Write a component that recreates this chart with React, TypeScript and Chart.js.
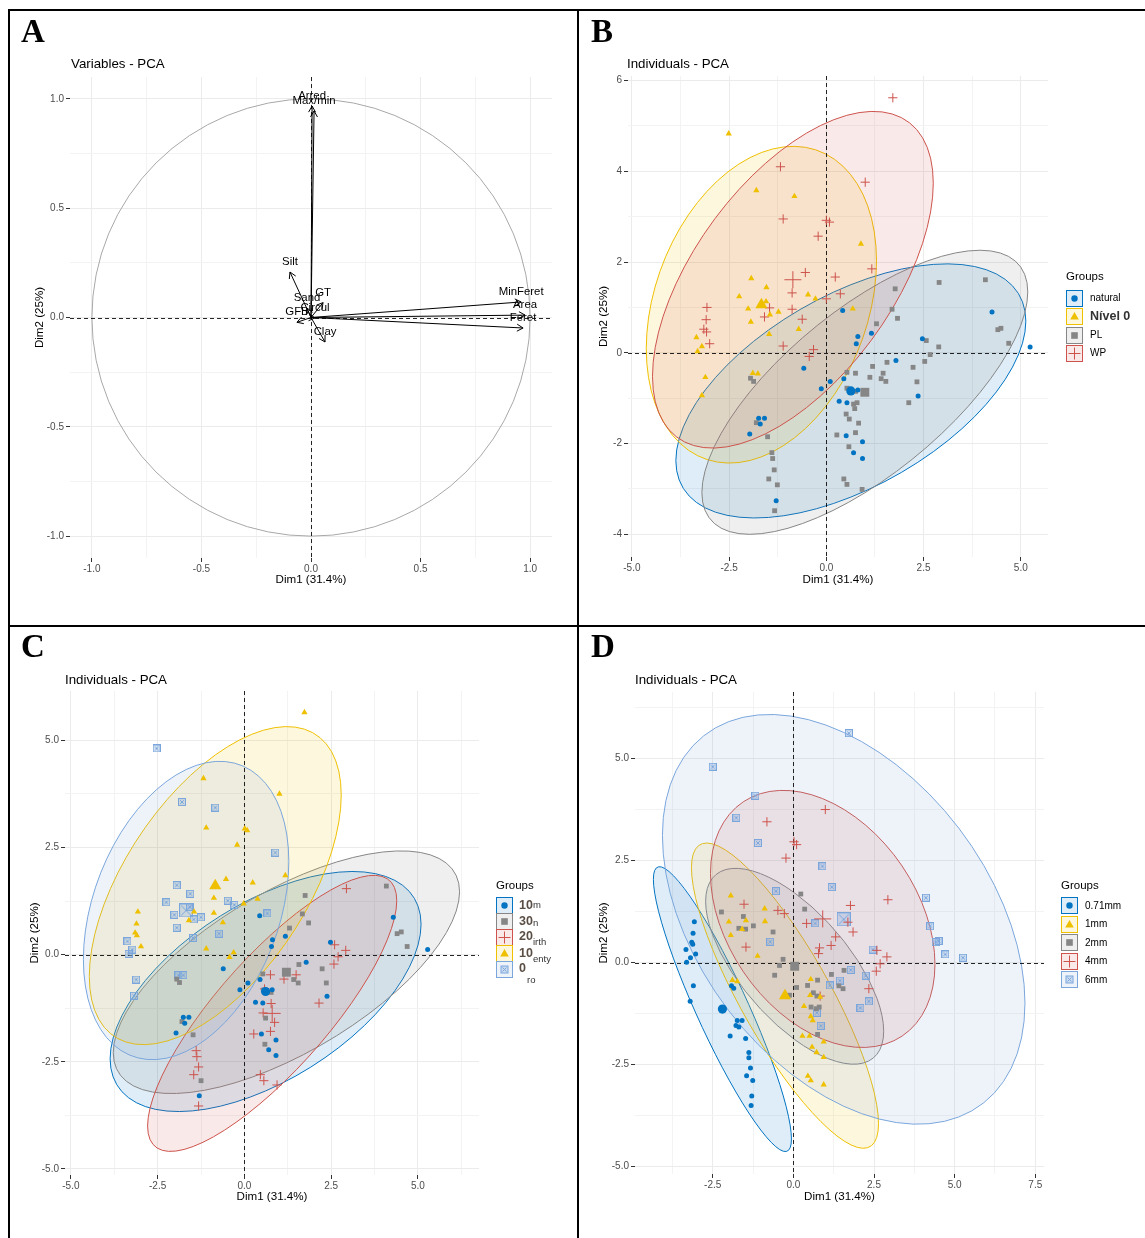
import React, { useEffect, useRef } from "react";
import { Chart, registerables } from "chart.js";
Chart.register(...registerables);

const FONT = "'Liberation Sans', Arial, Helvetica, sans-serif";
Chart.defaults.font.family = FONT;

type Pt = [number, number];

// ---------------- Panel A : variables ----------------
const aVarNames = ["Arred", "Max/min", "MinFeret", "Area", "Feret", "Silt", "Sand", "GT", "Circul", "GFB", "Clay"];
const aDim1 = [0.005, 0.014, 0.959, 0.977, 0.968, -0.096, -0.018, 0.055, 0.018, -0.064, 0.064];
const aDim2 = [0.967, 0.945, 0.071, 0.011, -0.048, 0.208, 0.043, 0.068, -0.002, -0.022, -0.112];
const aMajorTicks = [-1.0, -0.5, 0.0, 0.5, 1.0];

// ---------------- Panel B : groups natural / Nível 0 / PL / WP ----------------
const bGroupNames = ["natural", "Nível 0", "PL", "WP"];
const bNatural: Pt[] = [[4.26,0.90],[5.24,0.13],[0.42,0.93],[1.16,0.43],[0.81,0.36],[0.77,0.20],[2.47,0.31],[-0.58,-0.34],[1.79,-0.17],[0.45,-0.57],[0.10,-0.63],[-0.13,-0.79],[0.81,-0.82],[2.36,-0.95],[0.33,-1.07],[0.53,-1.10],[-1.74,-1.44],[-1.59,-1.44],[-1.70,-1.57],[-1.97,-1.79],[0.51,-1.83],[0.93,-1.96],[0.70,-2.20],[0.93,-2.33],[-1.29,-3.26]];
const bNivel0: Pt[] = [[-2.51,4.83],[-1.80,3.58],[-0.82,3.45],[0.89,2.40],[-1.93,1.64],[-1.54,1.44],[-2.24,1.24],[-1.55,1.13],[-2.01,0.97],[-1.23,0.90],[-0.47,1.28],[-0.28,1.19],[0.68,0.97],[-1.45,0.84],[-1.94,0.68],[-0.71,0.52],[-1.47,0.41],[-3.34,0.34],[-3.20,0.14],[-3.31,0.03],[-3.11,-0.54],[-1.89,-0.45],[-1.76,-0.46],[-3.20,-0.94]];
const bPL: Pt[] = [[2.90,1.55],[4.09,1.61],[1.77,1.41],[1.69,0.96],[1.83,0.76],[1.29,0.64],[4.41,0.51],[4.49,0.54],[2.57,0.27],[2.89,0.13],[4.69,0.21],[2.67,-0.04],[1.56,-0.21],[2.53,-0.19],[1.19,-0.30],[2.23,-0.32],[1.46,-0.45],[0.53,-0.43],[0.75,-0.45],[1.12,-0.54],[1.41,-0.57],[1.53,-0.63],[2.33,-0.64],[-1.95,-0.56],[-1.87,-0.63],[0.53,-0.78],[0.75,-0.85],[0.70,-1.13],[0.79,-1.10],[2.12,-1.10],[0.73,-1.23],[0.51,-1.35],[0.59,-1.46],[0.83,-1.55],[-1.80,-1.54],[-1.51,-1.85],[0.27,-1.81],[0.75,-1.76],[0.58,-2.07],[-1.40,-2.20],[-1.38,-2.33],[-1.34,-2.58],[-1.48,-2.78],[-1.26,-2.91],[0.45,-2.78],[0.53,-2.90],[0.92,-3.01],[-1.33,-3.48]];
const bWP: Pt[] = [[1.71,5.62],[-1.18,4.10],[1.00,3.76],[-1.11,2.95],[0.00,2.92],[0.08,2.88],[-0.21,2.57],[1.17,1.85],[-0.54,1.77],[0.23,1.67],[-0.88,1.32],[0.36,1.30],[0.00,1.19],[-3.07,1.00],[-1.46,0.99],[-0.88,0.96],[-1.59,0.79],[-0.62,0.74],[-3.09,0.73],[-3.15,0.52],[-3.08,0.46],[-3.00,0.20],[-1.11,0.15],[-0.33,0.07],[-0.44,-0.08]];
const bMeans: Pt[] = [[0.63,-0.84],[-1.67,1.06],[0.99,-0.87],[-0.86,1.61]];
// confidence ellipses: half-width (Dim1), half-height (Dim2), Dim1 offset of the top point
const bEllipses = [[4.50,2.80,2.47],[2.96,3.49,0.82],[4.19,3.13,2.96],[3.61,3.71,2.07]];
const bMajorX = [-5.0, -2.5, 0.0, 2.5, 5.0];
const bMajorY = [-4, -2, 0, 2, 4, 6];

// ---------------- Panel C ----------------
const cLegendNums = ["10", "30", "20", "10", "0"];
const cLegendTails = ["m", "n", "irth", "enty", "ro"];
const cM: Pt[] = [[4.29,0.87],[5.28,0.12],[0.44,0.91],[1.18,0.43],[0.81,0.35],[0.78,0.19],[2.48,0.29],[-0.61,-0.33],[1.78,-0.18],[0.45,-0.58],[0.10,-0.66],[-0.13,-0.82],[0.80,-0.82],[2.38,-0.97],[0.32,-1.11],[0.53,-1.13],[-1.76,-1.46],[-1.60,-1.46],[-1.72,-1.60],[-1.97,-1.83],[0.49,-1.85],[0.91,-1.99],[0.70,-2.22],[0.91,-2.35],[-1.30,-3.29]];
const cN: Pt[] = [[4.09,1.60],[1.75,1.38],[1.67,0.95],[1.85,0.74],[1.30,0.62],[4.40,0.49],[4.52,0.53],[4.69,0.19],[1.57,-0.23],[2.24,-0.33],[1.18,-0.37],[1.42,-0.58],[1.55,-0.66],[2.36,-0.66],[0.53,-0.45],[0.56,-0.82],[0.77,-0.88],[0.61,-1.48],[-1.95,-0.57],[-1.87,-0.65],[-1.80,-1.56],[-1.48,-1.87],[0.59,-2.09],[-1.25,-2.94]];
const cIrth: Pt[] = [[2.94,1.54],[2.60,0.23],[2.92,0.10],[2.70,-0.05],[2.58,-0.22],[0.75,-0.47],[1.14,-0.57],[1.49,-0.47],[0.58,-0.80],[0.77,-1.14],[0.54,-1.36],[0.87,-1.58],[2.15,-1.13],[0.27,-1.85],[0.75,-1.79],[-1.39,-2.24],[-1.37,-2.38],[-1.32,-2.62],[-1.46,-2.80],[0.46,-2.80],[0.56,-2.94],[0.94,-3.04],[-1.32,-3.53]];
const cEnty: Pt[] = [[1.73,5.65],[-1.18,4.11],[1.01,3.75],[-1.10,2.96],[0.01,2.94],[0.08,2.90],[-0.21,2.56],[1.18,1.85],[-0.53,1.76],[0.24,1.68],[-0.88,1.32],[0.38,1.30],[-3.07,1.00],[-1.45,1.00],[-0.88,0.97],[-0.62,0.75],[-1.60,0.80],[-3.11,0.72],[-3.15,0.51],[-3.10,0.45],[-2.98,0.19],[-1.10,0.14],[-0.31,0.05],[-0.02,1.19],[-0.43,-0.06]];
const cRo: Pt[] = [[-2.53,4.81],[-1.80,3.56],[-0.84,3.43],[0.89,2.38],[-1.95,1.62],[-1.56,1.42],[-2.25,1.22],[-1.57,1.11],[-2.02,0.93],[-0.48,1.26],[-0.29,1.16],[0.66,0.96],[-1.25,0.87],[-1.46,0.82],[-1.95,0.63],[-0.73,0.49],[-1.48,0.39],[-3.37,0.31],[-3.23,0.12],[-3.34,0.02],[-3.12,-0.58],[-1.90,-0.48],[-1.76,-0.48],[-3.18,-0.96]];
const cMeans: Pt[] = [[0.61,-0.86],[1.21,-0.41],[0.80,-1.37],[-0.84,1.61],[-1.68,1.03]];
const cEllipses = [[4.48,2.80,2.51],[4.99,2.83,3.31],[3.59,3.22,2.93],[3.63,3.71,2.07],[2.96,3.48,0.97]];
const cdMajor = [-5.0, -2.5, 0.0, 2.5, 5.0, 7.5];

// ---------------- Panel D ----------------
const dGroupNames = ["0.71mm", "1mm", "2mm", "4mm", "6mm"];
const d071: Pt[] = [[-3.07,1.00],[-3.11,0.72],[-3.15,0.50],[-3.12,0.45],[-3.33,0.32],[-3.03,0.21],[-3.19,0.12],[-3.31,0.01],[-3.10,-0.57],[-3.20,-0.95],[-1.92,-0.57],[-1.85,-0.63],[-1.74,-1.42],[-1.59,-1.42],[-1.78,-1.54],[-1.69,-1.58],[-1.96,-1.80],[-1.48,-1.86],[-1.38,-2.20],[-1.38,-2.33],[-1.33,-2.58],[-1.45,-2.77],[-1.26,-2.89],[-1.29,-3.27],[-1.31,-3.50]];
const d1: Pt[] = [[-1.94,1.64],[-0.89,1.32],[-2.00,1.00],[-1.47,1.03],[-0.88,1.01],[-1.59,0.82],[-1.94,0.67],[-1.11,0.16],[-1.89,-0.43],[-1.74,-0.46],[0.54,-0.41],[0.52,-0.80],[0.83,-0.84],[0.33,-1.07],[0.54,-1.32],[0.60,-1.42],[0.28,-1.80],[0.50,-1.80],[0.94,-1.94],[0.58,-2.07],[0.72,-2.20],[0.94,-2.32],[0.45,-2.78],[0.54,-2.89],[0.94,-2.99]];
const d2: Pt[] = [[0.23,1.68],[0.35,1.31],[-2.23,1.24],[-1.55,1.13],[-1.24,0.90],[-1.69,0.84],[-1.48,0.82],[-0.63,0.75],[-0.32,0.08],[-0.43,-0.07],[-0.58,-0.31],[0.75,-0.43],[1.18,-0.29],[1.57,-0.19],[0.44,-0.56],[1.41,-0.57],[1.54,-0.64],[0.10,-0.61],[0.62,-0.74],[0.73,-0.82],[-0.12,-0.80],[0.55,-1.09],[0.71,-1.13],[0.80,-1.09],[0.75,-1.76]];
const d4: Pt[] = [[0.99,3.75],[-0.82,3.45],[0.02,2.96],[0.10,2.89],[-0.23,2.56],[2.93,1.54],[1.77,1.40],[-1.53,1.43],[-0.48,1.28],[-0.28,1.20],[0.41,0.96],[1.69,0.99],[1.85,0.75],[1.31,0.63],[0.81,0.36],[-1.47,0.38],[1.17,0.42],[2.59,0.30],[2.90,0.14],[2.69,-0.03],[2.57,-0.21],[2.34,-0.64],[0.83,-0.82],[0.78,0.22]];
const d6: Pt[] = [[1.72,5.62],[-2.50,4.80],[-1.18,4.09],[-1.77,3.55],[-1.10,2.93],[0.90,2.36],[1.19,1.85],[4.11,1.59],[-0.54,1.75],[0.68,0.96],[-0.72,0.51],[4.24,0.89],[4.41,0.50],[4.50,0.53],[2.46,0.32],[4.71,0.20],[5.26,0.12],[1.78,-0.18],[2.24,-0.32],[1.44,-0.44],[1.13,-0.56],[2.34,-0.95],[2.08,-1.11],[0.73,-1.23],[0.85,-1.55]];
const dMeans: Pt[] = [[-2.20,-1.14],[-0.26,-0.81],[0.04,-0.09],[0.91,1.07],[1.56,1.06]];
const dEllipses = [[2.14,3.49,-1.95],[2.90,3.74,-2.43],[2.76,2.40,-1.83],[3.48,3.15,-1.23],[5.62,5.02,-2.30]];

// ---------------- styles ----------------
const BLUE = "#0073C2", YELLOW = "#EFC000", GREY = "#868686", RED = "#CD534C", LBLUE = "#7AA6DC";

function rgba(hex: string, a: number) {
  const n = parseInt(hex.slice(1), 16);
  return `rgba(${(n >> 16) & 255},${(n >> 8) & 255},${n & 255},${a})`;
}
const isMajor = (v: number, majors: number[]) => majors.some((m) => Math.abs(m - v) < 1e-6);
const f1 = (v: number) => Number(v).toFixed(1);
const f0 = (v: number) => String(Math.round(Number(v)));

function makeSqX(size: number) {
  const c = document.createElement("canvas");
  c.width = size; c.height = size;
  const g = c.getContext("2d")!;
  g.fillStyle = rgba(LBLUE, 0.3);
  g.fillRect(0.5, 0.5, size - 1, size - 1);
  g.strokeStyle = LBLUE; g.lineWidth = 1;
  g.strokeRect(0.5, 0.5, size - 1, size - 1);
  const m = size > 10 ? 2 : 2.2;
  g.beginPath();
  g.moveTo(m, m); g.lineTo(size - m, size - m);
  g.moveTo(size - m, m); g.lineTo(m, size - m);
  g.stroke();
  return c;
}

function pointStyle(kind: string, color: string, big: boolean): any {
  if (kind === "circle") return { pointStyle: "circle", pointRadius: big ? 4.6 : 2.5, backgroundColor: color, borderColor: color, borderWidth: 0 };
  if (kind === "triangle") return { pointStyle: "triangle", pointRadius: big ? 7 : 3.6, backgroundColor: color, borderColor: color, borderWidth: 0 };
  if (kind === "square") return { pointStyle: "rect", pointRadius: big ? 6.3 : 3.4, backgroundColor: color, borderColor: color, borderWidth: 0 };
  if (kind === "plus") return { pointStyle: "cross", pointRadius: big ? 8.5 : 4.6, backgroundColor: color, borderColor: color, borderWidth: 1 };
  return { pointStyle: makeSqX(big ? 14 : 8), pointRadius: big ? 7 : 4, backgroundColor: LBLUE, borderColor: LBLUE };
}

// ---------------- plugins ----------------
const zeroLinesPlugin = {
  id: "zeroLines",
  beforeDatasetsDraw(chart: any) {
    const { ctx, chartArea: a, scales: { x, y } } = chart;
    const x0 = Math.round(x.getPixelForValue(0)) + 0.5;
    const y0 = Math.round(y.getPixelForValue(0)) + 0.5;
    ctx.save();
    ctx.strokeStyle = "rgba(0,0,0,0.85)";
    ctx.lineWidth = 1;
    ctx.setLineDash([4, 3]);
    ctx.beginPath();
    ctx.moveTo(x0, a.top); ctx.lineTo(x0, a.bottom);
    ctx.moveTo(a.left, y0); ctx.lineTo(a.right, y0);
    ctx.stroke();
    ctx.restore();
  },
};

const circlePlugin = {
  id: "corCircle",
  beforeDatasetsDraw(chart: any) {
    const { ctx, scales: { x, y } } = chart;
    const cx = x.getPixelForValue(0), cy = y.getPixelForValue(0);
    const rx = x.getPixelForValue(1) - cx, ry = cy - y.getPixelForValue(1);
    ctx.save();
    ctx.strokeStyle = "#a8a8a8";
    ctx.lineWidth = 1;
    ctx.beginPath();
    ctx.ellipse(cx, cy, rx, ry, 0, 0, Math.PI * 2);
    ctx.stroke();
    ctx.restore();
  },
};

const arrowPlugin = {
  id: "arrows",
  afterDatasetsDraw(chart: any) {
    const { ctx, scales: { x, y } } = chart;
    const x0 = x.getPixelForValue(0), y0 = y.getPixelForValue(0);
    ctx.save();
    ctx.strokeStyle = "#000";
    ctx.lineWidth = 1;
    aVarNames.forEach((_n, i) => {
      const px = x.getPixelForValue(aDim1[i]), py = y.getPixelForValue(aDim2[i]);
      const ang = Math.atan2(py - y0, px - x0);
      const L = 7, h = Math.PI / 6;
      ctx.beginPath();
      ctx.moveTo(px - L * Math.cos(ang - h), py - L * Math.sin(ang - h));
      ctx.lineTo(px, py);
      ctx.lineTo(px - L * Math.cos(ang + h), py - L * Math.sin(ang + h));
      ctx.stroke();
    });
    ctx.fillStyle = "#000";
    ctx.font = `11.4px ${FONT}`;
    ctx.textAlign = "center";
    ctx.textBaseline = "middle";
    aVarNames.forEach((n, i) => {
      ctx.fillText(n, x.getPixelForValue(aDim1[i]), y.getPixelForValue(aDim2[i]) - 10);
    });
    ctx.restore();
  },
};

function ellipsePlugin(list: { center: Pt; shape: number[]; color: string }[]) {
  return {
    id: "ellipses",
    beforeDatasetsDraw(chart: any) {
      const { ctx, chartArea: a, scales: { x, y } } = chart;
      const sx = x.getPixelForValue(1) - x.getPixelForValue(0);
      const sy = y.getPixelForValue(0) - y.getPixelForValue(1);
      ctx.save();
      ctx.beginPath();
      ctx.rect(a.left, a.top, a.right - a.left, a.bottom - a.top);
      ctx.clip();
      for (const e of list) {
        const [W, H, dt] = e.shape;
        const k = dt * H;
        const l11 = sx * W;
        const l21 = (-sy * k) / W;
        const l22 = Math.sqrt(Math.max(sy * sy * H * H - l21 * l21, 0.01));
        const cx = x.getPixelForValue(e.center[0]);
        const cy = y.getPixelForValue(e.center[1]);
        ctx.save();
        ctx.beginPath();
        ctx.transform(l11, l21, 0, l22, cx, cy);
        ctx.arc(0, 0, 1, 0, Math.PI * 2);
        ctx.restore();
        ctx.fillStyle = rgba(e.color, 0.13);
        ctx.fill();
        ctx.strokeStyle = e.color;
        ctx.lineWidth = 1;
        ctx.stroke();
      }
      ctx.restore();
    },
  };
}

// ---------------- layouts ----------------
const LAYOUT_A = { cl: 10, ct: 11, cw: 566, ch: 613, area: { l: 70, t: 77, r: 552, b: 558 }, xMin: -1.1, xMax: 1.1, yMin: -1.1, yMax: 1.1, xStep: 0.25, yStep: 0.25, xMajors: aMajorTicks, yMajors: aMajorTicks, xFmt: f1, yFmt: f1, yTitleX: 40, xTitleY: 580 };
const LAYOUT_B = { cl: 580, ct: 11, cw: 565, ch: 613, area: { l: 628, t: 76, r: 1048, b: 557 }, xMin: -5.1, xMax: 5.7, yMin: -4.5, yMax: 6.1, xStep: 1.25, yStep: 1, xMajors: bMajorX, yMajors: bMajorY, xFmt: f1, yFmt: f0, yTitleX: 604, xTitleY: 580 };
const LAYOUT_C = { cl: 10, ct: 628, cw: 566, ch: 610, area: { l: 65, t: 691, r: 479, b: 1175 }, xMin: -5.17, xMax: 6.76, yMin: -5.14, yMax: 6.15, xStep: 1.25, yStep: 1.25, xMajors: cdMajor, yMajors: cdMajor, xFmt: f1, yFmt: f1, yTitleX: 35, xTitleY: 1197 };
const LAYOUT_D = { cl: 580, ct: 628, cw: 565, ch: 610, area: { l: 635, t: 692, r: 1044, b: 1174 }, xMin: -4.91, xMax: 7.77, yMin: -5.18, yMax: 6.63, xStep: 1.25, yStep: 1.25, xMajors: cdMajor, yMajors: cdMajor, xFmt: f1, yFmt: f1, yTitleX: 604, xTitleY: 1197 };

function commonOptions(p: any) {
  const TS = 11.6;
  const grid = (majors: number[]) => ({
    color: (c: any) => (c.tick && isMajor(c.tick.value, majors) ? "#ebebeb" : "#f3f3f3"),
    lineWidth: 1,
    drawTicks: true,
    tickLength: 4,
    tickWidth: 1,
    tickColor: (c: any) => (c.tick && isMajor(c.tick.value, majors) ? "#333333" : "rgba(0,0,0,0)"),
  });
  return {
    responsive: false,
    animation: false,
    devicePixelRatio: 1,
    events: [],
    layout: { padding: { left: 0, top: p.area.t - p.ct, right: p.cl + p.cw - p.area.r, bottom: 0 } },
    plugins: { legend: { display: false }, tooltip: { enabled: false }, title: { display: false } },
    scales: {
      x: {
        type: "linear",
        position: "bottom",
        min: p.xMin,
        max: p.xMax,
        afterFit: (s: any) => { s.height = p.ct + p.ch - p.area.b; },
        ticks: { stepSize: p.xStep, includeBounds: false, autoSkip: false, maxRotation: 0, minRotation: 0, padding: 1, color: "#4d4d4d", font: { size: 10 }, callback: (v: any) => (isMajor(v, p.xMajors) ? p.xFmt(v) : "") },
        grid: grid(p.xMajors),
        border: { display: false },
        title: { display: true, text: "Dim1 (31.4%)", color: "#000", font: { size: TS }, padding: { top: 0, bottom: p.ct + p.ch - p.xTitleY - (TS * 1.2) / 2 } },
      },
      y: {
        type: "linear",
        position: "left",
        min: p.yMin,
        max: p.yMax,
        afterFit: (s: any) => { s.width = p.area.l - p.cl; },
        ticks: { stepSize: p.yStep, includeBounds: false, autoSkip: false, padding: 2, color: "#4d4d4d", font: { size: 10 }, callback: (v: any) => (isMajor(v, p.yMajors) ? p.yFmt(v) : "") },
        grid: grid(p.yMajors),
        border: { display: false },
        title: { display: true, text: "Dim2 (25%)", color: "#000", font: { size: TS }, padding: { top: p.yTitleX - p.cl - (TS * 1.2) / 2, bottom: 0 } },
      },
    },
  };
}

function buildA() {
  return {
    type: "scatter",
    data: {
      datasets: aVarNames.map((n, i) => ({
        label: n,
        data: [{ x: 0, y: 0 }, { x: aDim1[i], y: aDim2[i] }],
        showLine: true,
        borderColor: "#000",
        borderWidth: 1,
        pointRadius: 0,
        pointHoverRadius: 0,
      })),
    },
    options: commonOptions(LAYOUT_A),
    plugins: [circlePlugin, zeroLinesPlugin, arrowPlugin],
  };
}

type Group = { name: string; pts: Pt[]; mean: Pt; shape: number[]; color: string; kind: string };

function buildInd(layout: any, groups: Group[]) {
  const datasets: any[] = [];
  groups.forEach((g) => {
    datasets.push({ label: g.name, data: g.pts.map(([x, y]) => ({ x, y })), ...pointStyle(g.kind, g.color, false) });
    datasets.push({ label: g.name + " mean", data: [{ x: g.mean[0], y: g.mean[1] }], ...pointStyle(g.kind, g.color, true) });
  });
  return {
    type: "scatter",
    data: { datasets },
    options: commonOptions(layout),
    plugins: [ellipsePlugin(groups.map((g) => ({ center: g.mean, shape: g.shape, color: g.color }))), zeroLinesPlugin],
  };
}

const bSpec = () => buildInd(LAYOUT_B, [
  { name: bGroupNames[0], pts: bNatural, mean: bMeans[0], shape: bEllipses[0], color: BLUE, kind: "circle" },
  { name: bGroupNames[1], pts: bNivel0, mean: bMeans[1], shape: bEllipses[1], color: YELLOW, kind: "triangle" },
  { name: bGroupNames[2], pts: bPL, mean: bMeans[2], shape: bEllipses[2], color: GREY, kind: "square" },
  { name: bGroupNames[3], pts: bWP, mean: bMeans[3], shape: bEllipses[3], color: RED, kind: "plus" },
]);
const cSpec = () => buildInd(LAYOUT_C, [
  { name: cLegendNums[0] + cLegendTails[0], pts: cM, mean: cMeans[0], shape: cEllipses[0], color: BLUE, kind: "circle" },
  { name: cLegendNums[1] + cLegendTails[1], pts: cN, mean: cMeans[1], shape: cEllipses[1], color: GREY, kind: "square" },
  { name: cLegendNums[2] + cLegendTails[2], pts: cIrth, mean: cMeans[2], shape: cEllipses[2], color: RED, kind: "plus" },
  { name: cLegendNums[3] + cLegendTails[3], pts: cEnty, mean: cMeans[3], shape: cEllipses[3], color: YELLOW, kind: "triangle" },
  { name: cLegendNums[4] + cLegendTails[4], pts: cRo, mean: cMeans[4], shape: cEllipses[4], color: LBLUE, kind: "sqx" },
]);
const dSpec = () => buildInd(LAYOUT_D, [
  { name: dGroupNames[0], pts: d071, mean: dMeans[0], shape: dEllipses[0], color: BLUE, kind: "circle" },
  { name: dGroupNames[1], pts: d1, mean: dMeans[1], shape: dEllipses[1], color: YELLOW, kind: "triangle" },
  { name: dGroupNames[2], pts: d2, mean: dMeans[2], shape: dEllipses[2], color: GREY, kind: "square" },
  { name: dGroupNames[3], pts: d4, mean: dMeans[3], shape: dEllipses[3], color: RED, kind: "plus" },
  { name: dGroupNames[4], pts: d6, mean: dMeans[4], shape: dEllipses[4], color: LBLUE, kind: "sqx" },
]);

// ---------------- React parts ----------------
function PanelChart({ layout, build }: any) {
  const ref = useRef<HTMLCanvasElement>(null);
  useEffect(() => {
    const chart = new Chart(ref.current as any, build());
    return () => chart.destroy();
  }, []);
  return (
    <canvas
      ref={ref}
      width={layout.cw}
      height={layout.ch}
      style={{ position: "absolute", left: layout.cl, top: layout.ct, width: layout.cw, height: layout.ch }}
    />
  );
}

function T({ x, y, size, children, bold, color, center, family }: any) {
  return (
    <div
      style={{
        position: "absolute",
        left: x,
        top: y,
        transform: center ? "translate(-50%,-50%)" : "translateY(-50%)",
        fontSize: size,
        fontWeight: bold ? "bold" : "normal",
        color: color || "#000",
        fontFamily: family || FONT,
        whiteSpace: "nowrap",
        lineHeight: 1,
      }}
    >
      {children}
    </div>
  );
}

function Key({ x, yc, color, kind }: any) {
  const w = 17, h = 17, cx = 8.5, cy = 8.5;
  let glyph: any = null;
  if (kind === "circle") glyph = <circle cx={cx} cy={cy} r={3.2} fill={color} />;
  else if (kind === "triangle") glyph = <polygon points={`${cx},${cy - 4.5} ${cx + 4.3},${cy + 3} ${cx - 4.3},${cy + 3}`} fill={color} />;
  else if (kind === "square") glyph = <rect x={cx - 3.3} y={cy - 3.3} width={6.6} height={6.6} fill={color} />;
  else if (kind === "plus") glyph = <path d={`M${cx} ${cy - 6}V${cy + 6}M${cx - 6} ${cy}H${cx + 6}`} stroke={color} strokeWidth={1} fill="none" />;
  else
    glyph = (
      <g>
        <rect x={cx - 3.5} y={cy - 3.5} width={7} height={7} fill={rgba(LBLUE, 0.3)} stroke={LBLUE} strokeWidth={1} />
        <path d={`M${cx - 2} ${cy - 2}L${cx + 2} ${cy + 2}M${cx + 2} ${cy - 2}L${cx - 2} ${cy + 2}`} stroke={LBLUE} strokeWidth={1} />
      </g>
    );
  return (
    <svg width={w} height={h} style={{ position: "absolute", left: x, top: yc - h / 2 }}>
      <rect x={0.5} y={0.5} width={w - 1} height={h - 1} fill={rgba(color, 0.13)} stroke={color} strokeWidth={1} />
      {glyph}
    </svg>
  );
}

const bKeys = [
  { color: BLUE, kind: "circle" },
  { color: YELLOW, kind: "triangle" },
  { color: GREY, kind: "square" },
  { color: RED, kind: "plus" },
];
const cKeys = [
  { color: BLUE, kind: "circle" },
  { color: GREY, kind: "square" },
  { color: RED, kind: "plus" },
  { color: YELLOW, kind: "triangle" },
  { color: LBLUE, kind: "sqx" },
];
const dKeys = [
  { color: BLUE, kind: "circle" },
  { color: YELLOW, kind: "triangle" },
  { color: GREY, kind: "square" },
  { color: RED, kind: "plus" },
  { color: LBLUE, kind: "sqx" },
];

export default function App() {
  const bRows = [298, 316, 335, 353];
  const cRows = [905, 921, 937, 953, 969];
  const cNumY = [905, 921, 936, 953, 968];
  const cTailPos = [[533, 904.5], [533, 922.5], [533, 941.5], [533, 958.5], [527, 979.5]];
  const dRows = [905.5, 924, 942.5, 961, 979.5];
  const line = (l: number, t: number, w: number, h: number) => (
    <div style={{ position: "absolute", left: l, top: t, width: w, height: h, background: "#000" }} />
  );
  return (
    <div style={{ position: "absolute", left: 0, top: 0, width: 1145, height: 1238, background: "#fff", overflow: "hidden", fontFamily: FONT }}>
      {line(8, 9, 1137, 2)}
      {line(8, 9, 2, 1229)}
      {line(577, 9, 2, 1229)}
      {line(8, 625, 1137, 2)}

      <PanelChart layout={LAYOUT_A} build={buildA} />
      <PanelChart layout={LAYOUT_B} build={bSpec} />
      <PanelChart layout={LAYOUT_C} build={cSpec} />
      <PanelChart layout={LAYOUT_D} build={dSpec} />

      <T x={33} y={31} size={33} bold center family="'Liberation Serif', 'Times New Roman', serif">A</T>
      <T x={602} y={31} size={33} bold center family="'Liberation Serif', 'Times New Roman', serif">B</T>
      <T x={33} y={646} size={33} bold center family="'Liberation Serif', 'Times New Roman', serif">C</T>
      <T x={603} y={646} size={33} bold center family="'Liberation Serif', 'Times New Roman', serif">D</T>

      <T x={71} y={64} size={13.3}>Variables - PCA</T>
      <T x={627} y={64} size={13.3}>Individuals - PCA</T>
      <T x={65} y={680} size={13.3}>Individuals - PCA</T>
      <T x={635} y={680} size={13.3}>Individuals - PCA</T>

      {/* Legend B */}
      <T x={1066} y={277} size={11.5}>Groups</T>
      {bKeys.map((k, i) => (
        <Key key={"bk" + i} x={1066} yc={bRows[i]} color={k.color} kind={k.kind} />
      ))}
      {bGroupNames.map((n, i) =>
        i === 1 ? (
          <T key={"bl" + i} x={1090} y={bRows[i]} size={12.5} bold color="#333">{n}</T>
        ) : (
          <T key={"bl" + i} x={1090} y={bRows[i]} size={10}>{n}</T>
        )
      )}

      {/* Legend C */}
      <T x={496} y={886} size={11.5}>Groups</T>
      {cKeys.map((k, i) => (
        <Key key={"ck" + i} x={496} yc={cRows[i]} color={k.color} kind={k.kind} />
      ))}
      {cLegendTails.map((n, i) => (
        <T key={"ct" + i} x={cTailPos[i][0]} y={cTailPos[i][1]} size={9.5} color="#333">{n}</T>
      ))}
      {cLegendNums.map((n, i) => (
        <T key={"cn" + i} x={519} y={cNumY[i]} size={12.5} bold color="#5a4e44">{n}</T>
      ))}

      {/* Legend D */}
      <T x={1061} y={886} size={11.5}>Groups</T>
      {dKeys.map((k, i) => (
        <Key key={"dk" + i} x={1061} yc={dRows[i]} color={k.color} kind={k.kind} />
      ))}
      {dGroupNames.map((n, i) => (
        <T key={"dl" + i} x={1085} y={dRows[i]} size={10}>{n}</T>
      ))}
    </div>
  );
}
